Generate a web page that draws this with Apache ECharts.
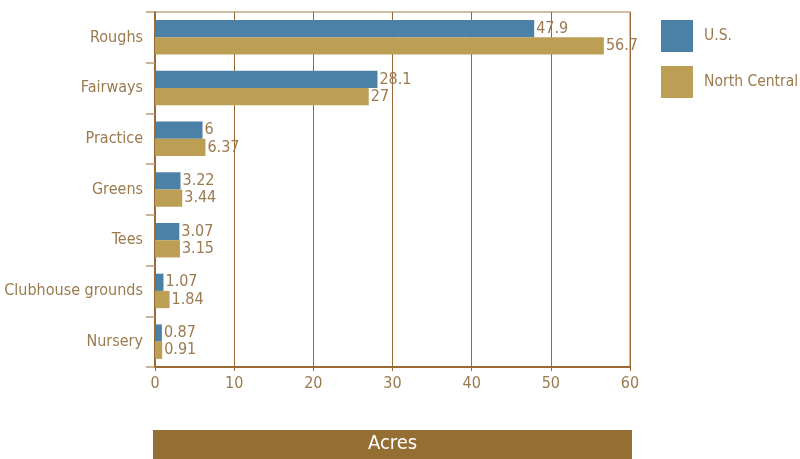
<!DOCTYPE html>
<html><head><meta charset="utf-8">
<script src="https://cdn.jsdelivr.net/npm/echarts@6/dist/echarts.min.js"></script>
<style>html,body{margin:0;padding:0;background:#fff}#c{width:800px;height:459px}</style>
</head><body><div id="c"></div>
<script>
const categories = ["Roughs","Fairways","Practice","Greens","Tees","Clubhouse grounds","Nursery"];
const usValues = [47.9, 28.1, 6, 3.22, 3.07, 1.07, 0.87];
const ncValues = [56.7, 27, 6.37, 3.44, 3.15, 1.84, 0.91];
const seriesNames = ["U.S.", "North Central"];
const axisTitle = "Acres";

const FONT = "'Liberation Sans Narrow','DejaVu Sans Condensed','Roboto Condensed',sans-serif";
const TXT = "#9b7a4f";
const LINE = "#9a6a32";
const chart = echarts.init(document.getElementById('c'));
const labelCfg = {show:true, position:'right', distance:2, color:TXT, fontFamily:FONT, fontSize:16};
chart.setOption({
  animation:false,
  textStyle:{fontFamily:FONT},
  grid:{left:155, right:170, top:12, bottom:92, show:true, borderColor:'#c2a888', borderWidth:1.5,
    containLabel:false, outerBoundsMode:'none'},
  legend:{orient:'vertical', left:656, top:15, itemWidth:32, itemHeight:32, itemGap:14,
    icon:'rect', textStyle:{color:TXT, fontFamily:FONT, fontSize:15.5, padding:[0,0,0,6]},
    data:seriesNames},
  xAxis:{type:'value', min:0, max:60, interval:10,
    axisLine:{show:true, lineStyle:{color:LINE, width:2}},
    axisTick:{show:true, length:4, lineStyle:{color:LINE}},
    splitLine:{show:true, lineStyle:{color:LINE, width:1}},
    axisLabel:{color:TXT, fontFamily:FONT, fontSize:16, margin:9}},
  yAxis:{type:'category', data:categories, inverse:true,
    axisLine:{show:true, lineStyle:{color:LINE, width:2}},
    axisTick:{show:true, length:9, lineStyle:{color:'#b89a78', width:1.5}},
    axisLabel:{color:TXT, fontFamily:FONT, fontSize:16, margin:12}},
  graphic:[{type:'rect', left:153, top:430, shape:{width:479, height:29}, style:{fill:'#956e34'}},
    {type:'text', left:368, top:434, style:{text:axisTitle, fill:'#fff', font:'20px '+FONT}}],
  series:[
    {name:seriesNames[0], type:'bar', data:usValues, itemStyle:{color:'#4b80a7'}, barGap:'0%', barCategoryGap:'32%', label:labelCfg},
    {name:seriesNames[1], type:'bar', data:ncValues, itemStyle:{color:'#bc9f55'}, label:labelCfg}
  ]
});
</script></body></html>
